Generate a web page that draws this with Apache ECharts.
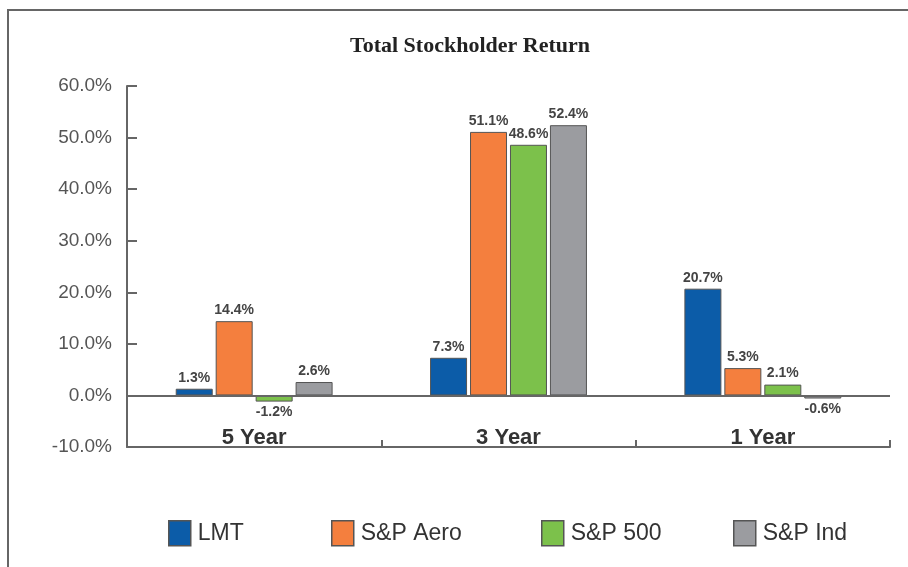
<!DOCTYPE html>
<html>
<head>
<meta charset="utf-8">
<script src="https://cdn.jsdelivr.net/npm/echarts@6/dist/echarts.min.js"></script>
<style>
html,body{margin:0;padding:0;background:#fff}
#chart{width:908px;height:567px}
</style>
</head>
<body>
<div id="chart"></div>
<script>
var categories=['5 Year','3 Year','1 Year'];
var seriesNames=['LMT','S&P Aero','S&P 500','S&P Ind'];
var lmt=[1.3,7.3,20.7];
var aero=[14.4,51.1,5.3];
var sp500=[-1.2,48.6,2.1];
var spInd=[2.6,52.4,-0.6];
var colors=['#0c5ca8','#f47f3e','#7cc14b','#9b9ca0'];
var legendLeft=[168,331,541,733];

var chart=echarts.init(document.getElementById('chart'));

//每个系列的柱子, 负值标签放下面
function makeSeries(name,values,i){
    return {
        name:name,type:'bar',barWidth:37,barGap:'8%',
        itemStyle:{color:colors[i],borderColor:'#555',borderWidth:1},
        label:{show:true,formatter:function(p){return p.value.toFixed(1)+'%';},
            fontFamily:'Liberation Sans Narrow, Arial, sans-serif',fontWeight:'bold',fontSize:14,color:'#444',distance:4},
        data:values.map(function(v){return {value:v,label:{position:v<0?'bottom':'top'}};}),
        markLine:i==0?{silent:true,symbol:'none',label:{show:false},
            lineStyle:{color:'#666',width:2,type:'solid'},data:[{yAxis:0}]}:undefined
    };
}
var all=[lmt,aero,sp500,spInd];
var series=[],legends=[];
for(var i=0;i<seriesNames.length;i++){
    series.push(makeSeries(seriesNames[i],all[i],i));
    legends.push({data:[seriesNames[i]],left:legendLeft[i],top:520,padding:0,icon:'rect',
        itemWidth:22,itemHeight:25,itemGap:6,selectedMode:false,
        textStyle:{fontFamily:'Liberation Sans, Arial, sans-serif',fontSize:23,color:'#333',padding:[0,0,0,2]},
        itemStyle:{borderColor:'#555',borderWidth:1.5}});
}

chart.setOption({
    animation:false,
    title:{text:'Total Stockholder Return',left:465,textAlign:'center',top:30,
        textStyle:{fontFamily:'Liberation Serif, Times New Roman, serif',fontWeight:'bold',fontSize:22,color:'#222'}},
    graphic:[{type:'rect',shape:{x:8,y:10,width:920,height:600},
        style:{fill:'none',stroke:'#666',lineWidth:2},silent:true}],
    legend:legends,
    grid:{left:127,right:18,top:86,bottom:120},
    xAxis:{type:'category',data:categories,
        axisLine:{onZero:false,lineStyle:{color:'#666',width:2}},
        axisTick:{show:true,inside:true,length:7,lineStyle:{color:'#666',width:2}},
        axisLabel:{inside:true,margin:-2,fontFamily:'Liberation Sans, Arial, sans-serif',fontWeight:'bold',fontSize:22,color:'#333'}},
    yAxis:{type:'value',min:-10,max:60,interval:10,
        axisLine:{show:true,lineStyle:{color:'#666',width:2}},
        axisTick:{show:true,inside:true,length:10,lineStyle:{color:'#666',width:2}},
        splitLine:{show:false},
        axisLabel:{margin:15,formatter:function(v){return v.toFixed(1)+'%';},
            fontFamily:'Liberation Sans, Arial, sans-serif',fontSize:19,color:'#555'}},
    series:series
});
</script>
</body>
</html>
